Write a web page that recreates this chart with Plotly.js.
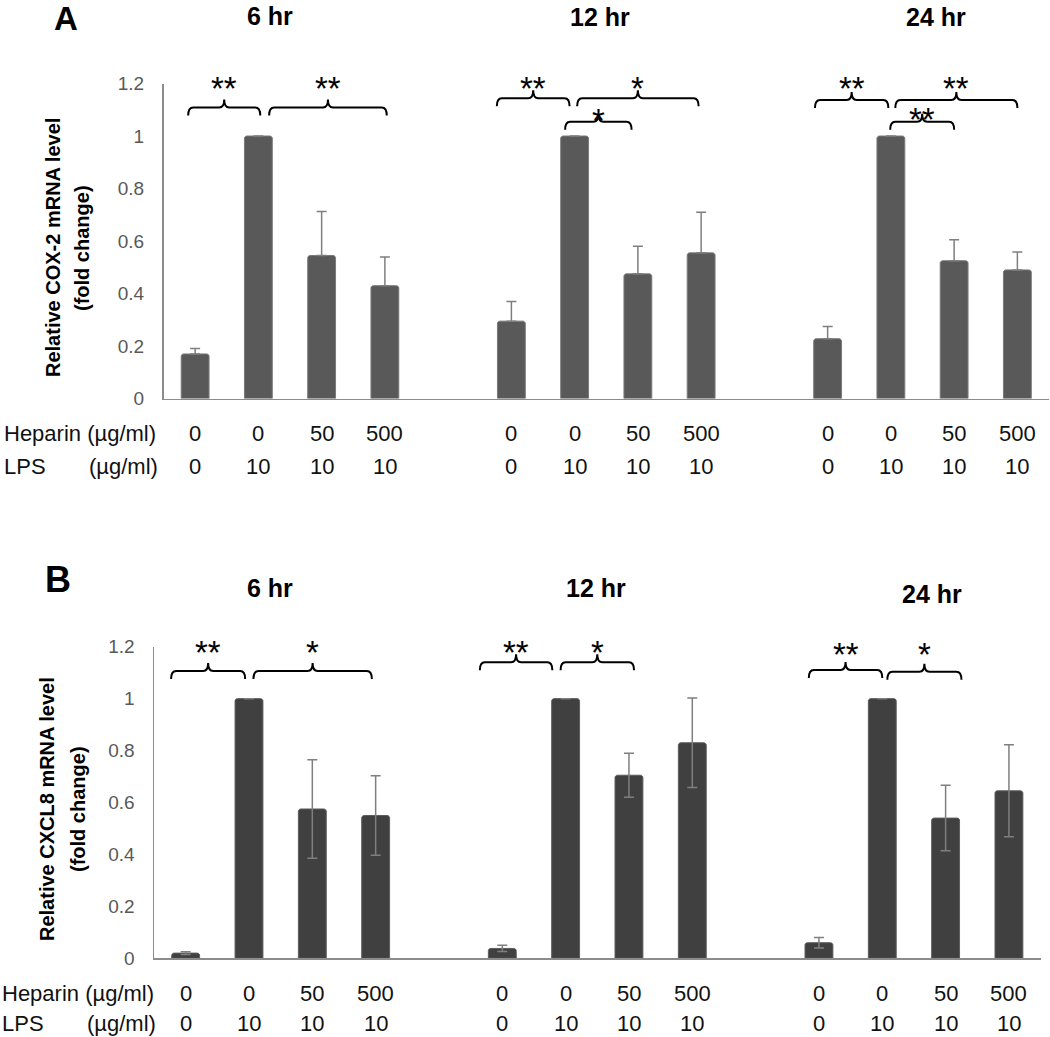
<!DOCTYPE html>
<html><head><meta charset="utf-8">
<script src="https://cdn.plot.ly/plotly-3.0.1.min.js"></script>
<style>html,body{margin:0;padding:0;background:#fff}</style>
</head><body><div id="chart" style="width:1050px;height:1037px"></div>
<script>
// ---- data ----
const timepoints = ['6 hr', '12 hr', '24 hr'];
const heparinDose = ['0', '0', '50', '500'];
const lpsDose = ['0', '10', '10', '10'];
// COX-2 (panel A), order: 6hr x4, 12hr x4, 24hr x4
const cox2Mean = [0.17, 1.00, 0.545, 0.43, 0.295, 1.00, 0.475, 0.555, 0.228, 1.00, 0.525, 0.49];
const cox2Err  = [0.021, null, 0.168, 0.109, 0.075, null, 0.105, 0.155, 0.047, null, 0.08, 0.068];
// CXCL8 (panel B)
const cxcl8Mean = [0.02, 1.00, 0.575, 0.55, 0.038, 1.00, 0.705, 0.83, 0.06, 1.00, 0.54, 0.645];
const cxcl8Err  = [0.005, 0, 0.19, 0.153, 0.012, 0, 0.085, 0.172, 0.02, 0, 0.126, 0.177];
// significance brackets: [xStart, xEnd, lineLevel, labelLevel, label]
const sigA = [
  [-0.11, 1.03, 1.109, 1.217, '**'],
  [1.17, 3.03, 1.109, 1.217, '**'],
  [4.77, 5.92, 1.144, 1.217, '**'],
  [6.04, 7.96, 1.144, 1.217, '*'],
  [5.85, 6.90, 1.054, 1.093, '*'],
  [9.80, 10.96, 1.137, 1.217, '**'],
  [11.07, 13.0, 1.137, 1.217, '**'],
  [10.99, 12.0, 1.054, 1.099, '**']
];
const sigB = [
  [-0.23, 0.94, 1.106, 1.214, '**'],
  [1.07, 2.94, 1.106, 1.214, '*'],
  [4.645, 5.79, 1.14, 1.214, '**'],
  [5.92, 7.08, 1.14, 1.214, '*'],
  [9.84, 11.0, 1.11, 1.206, '**'],
  [11.08, 12.25, 1.104, 1.206, '*']
];

// ---- layout geometry ----
const W = 1050, H = 1037;
const FONT = 'Liberation Sans, Arial, Helvetica, sans-serif';
const panels = {
  A: {xd: [163.5 / W, 1049 / W], yd: [1 - 398.6 / H, 1 - 83.5 / H]},
  B: {xd: [154 / W, 1040.6 / W], yd: [1 - 958.3 / H, 1 - 646.7 / H]}
};
const XR = [-0.5, 13.5], YR = [0, 1.2];
const xPos = cox2Mean.map((_, k) => Math.floor(k / 4) * 5 + (k % 4));

const traces = [
  {
    type: 'bar', x: xPos, y: cox2Mean, xaxis: 'x', yaxis: 'y', width: 0.44,
    marker: {color: '#595959', cornerradius: 3, line: {color: '#7a7a7a', width: 1}},
    error_y: {type: 'data', symmetric: false, array: cox2Err, arrayminus: cox2Err.map(() => 0),
              color: '#7f7f7f', thickness: 1.5, width: 5},
    hoverinfo: 'skip', showlegend: false
  },
  {
    type: 'bar', x: xPos, y: cxcl8Mean, xaxis: 'x2', yaxis: 'y2', width: 0.44,
    marker: {color: '#404040', cornerradius: 3, line: {color: '#5c5c5c', width: 1}},
    error_y: {type: 'data', array: cxcl8Err, color: '#7f7f7f', thickness: 1.5, width: 5},
    hoverinfo: 'skip', showlegend: false
  }
];

function xAxis(p, anchor) {
  return {domain: panels[p].xd, range: XR, anchor: anchor, showticklabels: false, ticks: '',
          showgrid: false, zeroline: false, showline: true, linecolor: '#8c8c8c', linewidth: 1.5, fixedrange: true};
}
function yAxis(p, anchor) {
  return {domain: panels[p].yd, range: YR, anchor: anchor, dtick: 0.2, tick0: 0, ticks: '',
          ticklabelstandoff: 14, showgrid: false, zeroline: false, showline: true,
          linecolor: '#8c8c8c', linewidth: 1.5,
          tickfont: {family: FONT, size: 19, color: '#595959'}, fixedrange: true};
}

const shapes = [], annotations = [];
const txt = (o) => Object.assign({showarrow: false, font: {family: FONT, size: 22, color: '#111'}}, o);
// data level -> paper fraction (so labels above the axis range stay visible)
const levelToPaper = (p, v) => panels[p].yd[0] + (v - YR[0]) / (YR[1] - YR[0]) * (panels[p].yd[1] - panels[p].yd[0]);

function addBrackets(sig, p, xr, yr) {
  const xpx = (panels[p].xd[1] - panels[p].xd[0]) * W / (XR[1] - XR[0]);
  const ypx = (panels[p].yd[1] - panels[p].yd[0]) * H / (YR[1] - YR[0]);
  const drop = 8 / ypx, rise = 8 / ypx, r = 5 / xpx;
  sig.forEach(s => {
    const [x0, x1, yl, ylab, lab] = s;
    const xm = (x0 + x1) / 2;
    const path = `M${x0},${yl - drop} Q${x0},${yl} ${x0 + r},${yl} L${xm - r},${yl} ` +
      `Q${xm},${yl} ${xm},${yl + rise} Q${xm},${yl} ${xm + r},${yl} L${x1 - r},${yl} Q${x1},${yl} ${x1},${yl - drop}`;
    shapes.push({type: 'path', xref: xr, yref: yr, path: path, line: {color: '#000', width: 2}});
    annotations.push(txt({xref: xr, yref: 'paper', x: xm, y: levelToPaper(p, ylab), text: lab, yshift: -9,
      xanchor: 'center', yanchor: 'middle', font: {family: FONT, size: 33, color: '#000'}}));
  });
}
addBrackets(sigA, 'A', 'x', 'y');
addBrackets(sigB, 'B', 'x2', 'y2');

// dose rows under each axis
function addDoseRows(xr, yr, hepShift, lpsShift, rowLabelX, unitX) {
  xPos.forEach((x, k) => {
    annotations.push(txt({xref: xr, yref: yr + ' domain', x: x, y: 0, yshift: -hepShift,
      text: heparinDose[k % 4], xanchor: 'center', yanchor: 'middle'}));
    annotations.push(txt({xref: xr, yref: yr + ' domain', x: x, y: 0, yshift: -lpsShift,
      text: lpsDose[k % 4], xanchor: 'center', yanchor: 'middle'}));
  });
  annotations.push(txt({xref: 'paper', yref: yr + ' domain', x: rowLabelX / W, y: 0, yshift: -hepShift,
    text: 'Heparin (µg/ml)', xanchor: 'left', yanchor: 'middle'}));
  annotations.push(txt({xref: 'paper', yref: yr + ' domain', x: rowLabelX / W, y: 0, yshift: -lpsShift,
    text: 'LPS', xanchor: 'left', yanchor: 'middle'}));
  annotations.push(txt({xref: 'paper', yref: yr + ' domain', x: unitX / W, y: 0, yshift: -lpsShift,
    text: '(µg/ml)', xanchor: 'left', yanchor: 'middle'}));
}
addDoseRows('x', 'y', 34.5, 68, 2, 87);
addDoseRows('x2', 'y2', 34.7, 65, 0, 85);

// time-point titles
const titleY = {A: [16, 17, 17], B: [588, 588, 594]};
const titleX = {A: [270, 600, 936], B: [270, 596, 932]};
['A', 'B'].forEach(p => timepoints.forEach((t, i) => {
  annotations.push(txt({xref: 'paper', yref: 'paper', x: titleX[p][i] / W, y: 1 - titleY[p][i] / H,
    text: '<b>' + t + '</b>', xanchor: 'center', yanchor: 'middle', font: {family: FONT, size: 25, color: '#000'}}));
}));

// panel letters
annotations.push(txt({xref: 'paper', yref: 'paper', x: 65.5 / W, y: 1, yshift: 2, text: '<b>A</b>',
  xanchor: 'center', yanchor: 'top', font: {family: FONT, size: 33, color: '#000'}}));
annotations.push(txt({xref: 'paper', yref: 'paper', x: 58 / W, y: 1 - 579 / H, text: '<b>B</b>',
  xanchor: 'center', yanchor: 'middle', font: {family: FONT, size: 36, color: '#000'}}));

// y-axis titles (two lines each)
const yTitles = [
  {lines: ['Relative COX-2 mRNA level', '(fold change)'], xs: [53, 82], yc: 248},
  {lines: ['Relative CXCL8 mRNA level', '(fold change)'], xs: [47, 78], yc: 809}
];
yTitles.forEach(t => t.lines.forEach((l, i) => {
  annotations.push(txt({xref: 'paper', yref: 'paper', x: t.xs[i] / W, y: 1 - t.yc / H, text: '<b>' + l + '</b>',
    textangle: -90, xanchor: 'center', yanchor: 'middle', font: {family: FONT, size: 20, color: '#000'}}));
}));

const layout = {
  width: W, height: H, margin: {l: 0, r: 0, t: 0, b: 0},
  paper_bgcolor: '#fff', plot_bgcolor: 'rgba(0,0,0,0)',
  font: {family: FONT},
  xaxis: xAxis('A', 'y'), yaxis: yAxis('A', 'x'),
  xaxis2: xAxis('B', 'y2'), yaxis2: yAxis('B', 'x2'),
  bargap: 0, shapes: shapes, annotations: annotations, showlegend: false
};

Plotly.newPlot('chart', traces, layout, {displayModeBar: false, staticPlot: true});
</script>
</body></html>
